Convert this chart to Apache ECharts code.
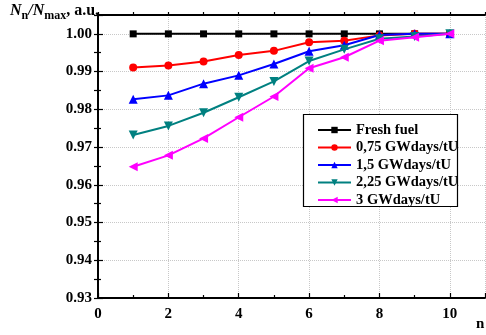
<!DOCTYPE html>
<html><head><meta charset="utf-8">
<script src="https://cdn.jsdelivr.net/npm/echarts@6/dist/echarts.min.js"></script>
<style>html,body{margin:0;padding:0;background:#fff}#c{width:486px;height:335px}</style>
</head><body><div id="c"></div>
<script>
const nValues = [1,2,3,4,5,6,7,8,9,10];
const seriesNames = ['Fresh fuel','0,75 GWdays/tU','1,5 GWdays/tU','2,25 GWdays/tU','3 GWdays/tU'];
const freshFuel = [1.0,1.0,1.0,1.0,1.0,1.0,1.0,1.0,1.0,1.0];
const burn075 = [0.9911,0.9916,0.9927,0.9944,0.9955,0.9978,0.9982,0.9996,1.0,1.0];
const burn15 = [0.9827,0.9837,0.9868,0.9890,0.9920,0.9954,0.9970,0.9997,1.0,1.0];
const burn225 = [0.9732,0.9756,0.9791,0.9832,0.9874,0.9928,0.9959,0.9987,0.9993,1.0];
const burn3 = [0.9648,0.9678,0.9723,0.9779,0.9834,0.9909,0.9938,0.9982,0.9991,1.0];
const xTicks = [0,2,4,6,8,10];
const yTickFormat = v => v.toFixed(2);

const colors = ['#000000','#ff0000','#0000ff','#008080','#ff00ff'];
const symbols = ['rect','circle','triangle','triangle','triangle'];
const symbolRot = [0,0,0,180,90];
const symbolSizes = [7,8,9,9,9];
const allData = [freshFuel,burn075,burn15,burn225,burn3];

const FONT = '"Liberation Serif","Times New Roman",serif';
const chart = echarts.init(document.getElementById('c'));
chart.setOption({
  animation:false,
  backgroundColor:'#fff',
  grid:{left:98,top:15,right:1,bottom:37},
  xAxis:[{
    type:'value',min:0,max:11,interval:2,
    axisLine:{lineStyle:{color:'#000',width:1.8}},
    axisTick:{inside:true,length:5,lineStyle:{color:'#000',width:1.2}},
    minorTick:{show:true,splitNumber:2,length:3,lineStyle:{color:'#000',width:1.2}},
    splitLine:{show:true,lineStyle:{color:'#c8c8c8',type:'dotted',width:1}},
    axisLabel:{margin:9,fontFamily:FONT,fontWeight:'bold',fontSize:15,color:'#000',showMaxLabel:false,
      formatter:v=>xTicks.includes(v)?String(v):''}
  },{
    type:'value',min:0,max:11,interval:1,position:'top',
    axisLine:{lineStyle:{color:'#000',width:1.8}},
    axisTick:{inside:false,length:3,lineStyle:{color:'#000',width:1.2}},
    axisLabel:{show:false},splitLine:{show:false}
  }],
  yAxis:[{
    type:'value',min:0.93,max:1.005,interval:0.01,
    axisLine:{lineStyle:{color:'#000',width:1.8}},
    axisTick:{inside:true,length:5,lineStyle:{color:'#000',width:1.2}},
    minorTick:{show:true,splitNumber:2,length:3,lineStyle:{color:'#000',width:1.2}},
    splitLine:{show:true,lineStyle:{color:'#c8c8c8',type:'dotted',width:1}},
    axisLabel:{margin:6,fontFamily:FONT,fontWeight:'bold',fontSize:15,color:'#000',showMaxLabel:false,
      formatter:yTickFormat}
  },{
    type:'value',min:0.93,max:1.005,interval:0.005,position:'right',
    axisLine:{lineStyle:{color:'#000',width:1.8}},
    axisTick:{inside:true,length:4,lineStyle:{color:'#000',width:1.2}},
    axisLabel:{show:false},splitLine:{show:false}
  }],
  legend:{
    orient:'vertical',left:317,top:122.5,itemWidth:33,itemHeight:8,itemGap:2.5,padding:0,z:60,
    textStyle:{fontFamily:FONT,fontWeight:'bold',fontSize:14.5,color:'#000'},
    data:seriesNames
  },
  graphic:[
    {type:'rect',shape:{x:303.5,y:114.5,width:154,height:92},z:50,
     style:{fill:'#fff',stroke:'#000',lineWidth:1.2}},
    {type:'text',left:10,top:3,z:100,style:{
      rich:{
        i:{fontFamily:FONT,fontStyle:'italic',fontWeight:'bold',fontSize:16,fill:'#000'},
        s:{fontFamily:FONT,fontWeight:'bold',fontSize:12,fill:'#000',padding:[10,0,0,0]},
        b:{fontFamily:FONT,fontWeight:'bold',fontSize:16,fill:'#000'}
      },
      text:'{i|N}{s|n}{i|/N}{s|max}{b|, a.u.}'
    }},
    {type:'text',left:476,top:317,z:100,style:{text:'n',fontFamily:FONT,fontWeight:'bold',fontSize:15,fill:'#000'}}
  ],
  series:seriesNames.map((name,i)=>({
    name:name,type:'line',
    data:nValues.map((x,j)=>[x,allData[i][j]]),
    symbol:symbols[i],symbolRotate:symbolRot[i],symbolSize:symbolSizes[i],
    showAllSymbol:true,
    itemStyle:{color:colors[i]},
    lineStyle:{color:colors[i],width:2},
    z:2+i
  }))
});
</script></body></html>
